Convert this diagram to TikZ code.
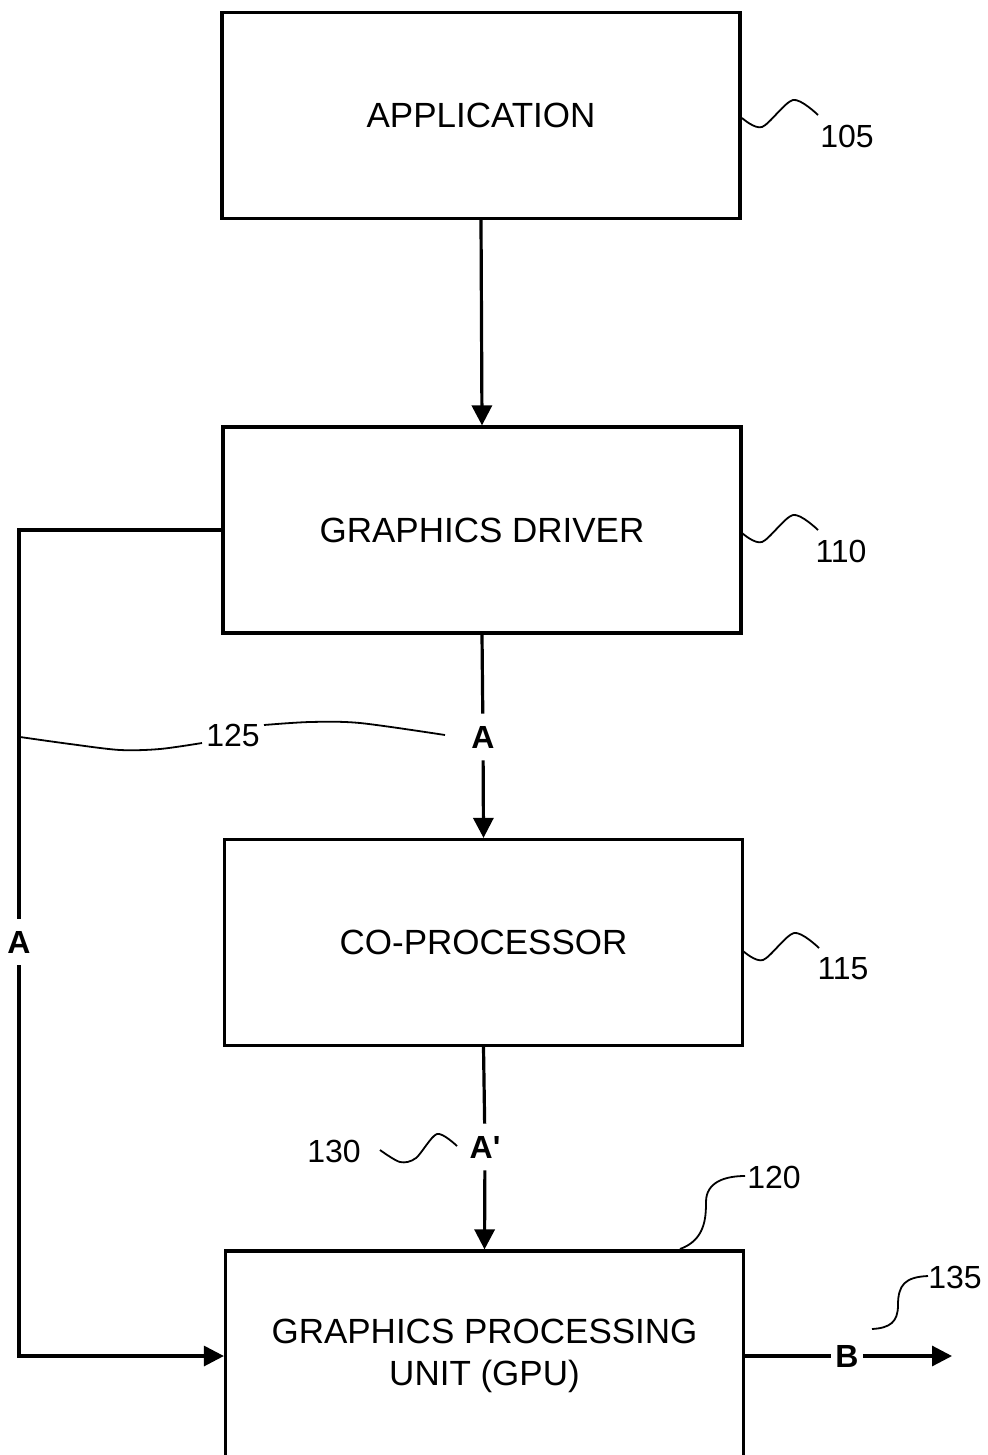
\documentclass[tikz,border=0pt]{standalone}
\usepackage{fontspec}
\setmainfont{Liberation Sans}
\usetikzlibrary{arrows.meta}
\begin{document}
\begin{tikzpicture}[x=0.5pt,y=-0.5pt,
  box/.style={draw, line width=1.6pt, minimum width=259pt, minimum height=103pt, inner sep=0pt,
     font=\fontsize{17.5}{21}\selectfont, align=center},
  lab/.style={font=\fontsize{16}{18}\selectfont\bfseries, inner xsep=2pt, inner ysep=6pt},
  num/.style={font=\fontsize{16}{19}\selectfont, inner sep=0pt},
  conn/.style={line width=1.6pt},
  arr/.style={line width=1.6pt, -{Triangle[length=10pt,width=10pt]}},
  lead/.style={line width=0.9pt}]
\clip (0,0) rectangle (987,1455);
\fill[white] (0,0) rectangle (987,1455);

\node[box] (app) at (481,115.5) {APPLICATION};
\node[box] (drv) at (482,530) {GRAPHICS DRIVER};
\node[box] (cop) at (483.5,942.5) {CO-PROCESSOR};
\node[box, minimum height=105pt] (gpu) at (484.5,1356) {GRAPHICS PROCESSING\\UNIT (GPU)};

% application -> driver
\draw[arr] (app.south) -- (drv.north);

% driver -> co-processor with label A
\node[lab] (a1) at (483,737) {A};
\draw[conn] (drv.south) -- (a1);
\draw[arr] (a1) -- (cop.north);

% co-processor -> GPU with label A'
\node[lab] (a2) at (485,1147) {A\textquotesingle};
\draw[conn] (cop.south) -- (a2);
\draw[arr] (a2) -- (gpu.north);

% left bypass path A
\node[lab] (a3) at (19,942) {A};
\draw[conn] (drv.west) -| (a3.north);
\draw[arr] (a3.south) |- (gpu.west);

% output B
\node[lab] (b) at (847,1356) {B};
\coordinate (bend) at (952,1356);
\draw[conn] (gpu.east) -- (b);
\draw[arr] (b) -- (bend);

% reference numerals
\node[num] (n105) at (847,136) {105};
\node[num] (n110) at (841,551) {110};
\node[num] (n115) at (843,969) {115};
\node[num] (n125) at (233,735) {125};
\node[num] (n130) at (334,1151) {130};
\node[num] (n120) at (774,1177) {120};
\node[num] (n135) at (955,1277) {135};

% leader lines
\draw[lead] plot[smooth] coordinates {(742,118) (762,127) (793,100) (818,115)};
\draw[lead] plot[smooth] coordinates {(742,533) (762,542) (793,515) (818,530)};
\draw[lead] plot[smooth] coordinates {(743,951) (763,960) (794,933) (819,948)};
\draw[lead] plot[smooth] coordinates {(20,737) (70,744) (120,750) (160,749) (202,743)};
\draw[lead] plot[smooth] coordinates {(264,725) (310,722) (360,723) (445,735)};
\draw[lead] plot[smooth] coordinates {(380,1150) (400,1162) (416,1158) (437,1134) (457,1146)};
\draw[lead] (680,1249) .. controls (705,1240) and (706,1218) .. (706,1202) .. controls (706,1182) and (725,1176) .. (745,1176);
\draw[lead] (872,1329) .. controls (890,1328) and (898,1322) .. (898,1305) .. controls (898,1285) and (905,1277) .. (928,1276);
\end{tikzpicture}
\end{document}
